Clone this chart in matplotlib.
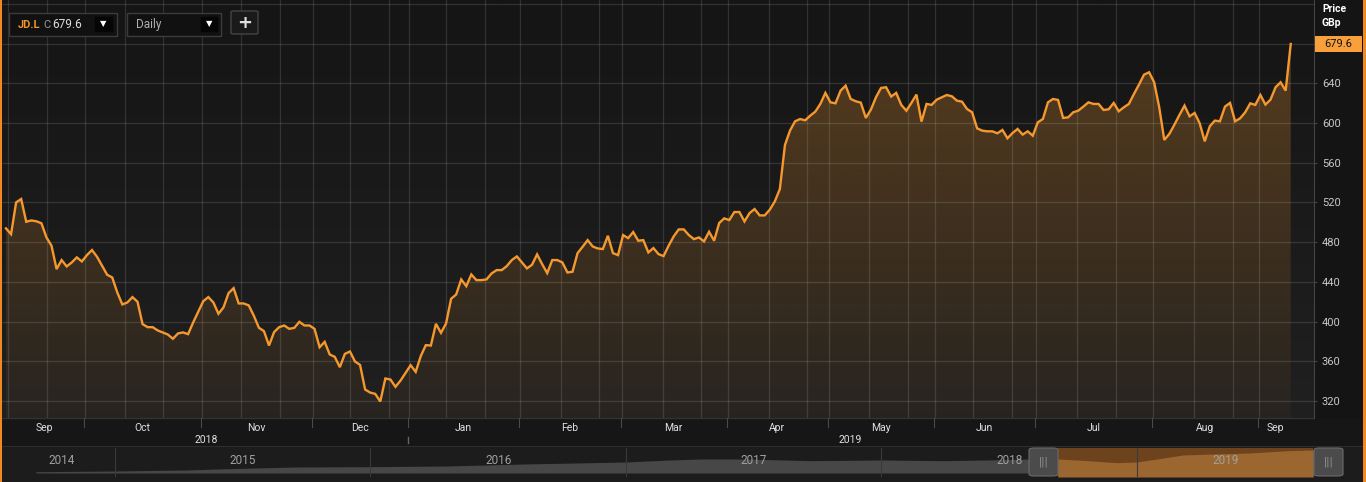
import numpy as np
import pandas as pd
import matplotlib
matplotlib.use("Agg")
import matplotlib.pyplot as plt
from matplotlib.patches import Polygon, Rectangle, FancyBboxPatch

plt.rcParams['font.family'] = ['Liberation Sans Narrow', 'Roboto', 'DejaVu Sans']

# JD.L daily closes (GBp), 7 Sep 2018 - 10 Sep 2019
prices = [
    493.8, 488.0, 520.0, 523.4, 500.5, 501.8, 501.0, 499.0, 484.7, 476.3,
    452.8, 461.9, 455.5, 459.5, 464.6, 460.5, 466.9, 472.0, 465.2, 456.2,
    447.1, 444.4, 429.3, 417.2, 419.2, 424.6, 419.9, 397.4, 394.3, 394.3,
    391.0, 389.0, 386.9, 382.6, 388.0, 389.0, 387.3, 399.0, 409.8, 420.5,
    424.6, 419.2, 407.8, 414.2, 428.6, 433.6, 418.2, 418.2, 416.2, 405.8,
    393.7, 390.3, 375.8, 389.3, 394.3, 396.0, 392.6, 393.6, 399.7, 396.0,
    396.0, 392.6, 374.1, 379.5, 366.8, 364.4, 354.0, 367.4, 369.8, 359.7,
    356.3, 331.5, 328.4, 327.1, 319.4, 342.6, 341.6, 334.2, 340.5, 348.3,
    356.0, 349.3, 365.1, 376.2, 375.8, 397.7, 388.6, 398.0, 422.9, 427.2,
    442.4, 435.6, 447.4, 441.7, 441.7, 442.4, 448.4, 451.8, 451.8, 455.8,
    461.9, 465.6, 459.5, 453.5, 457.2, 467.6, 457.8, 448.8, 461.9, 461.9,
    459.5, 449.4, 450.1, 468.9, 475.3, 482.0, 475.6, 473.6, 473.0, 486.4,
    468.9, 466.9, 487.1, 484.0, 490.1, 481.4, 482.0, 469.6, 474.0, 467.9,
    465.9, 476.3, 485.7, 492.8, 492.8, 487.1, 483.0, 484.7, 480.7, 490.4,
    481.4, 499.2, 503.9, 502.2, 510.3, 510.3, 500.8, 509.2, 513.3, 506.9,
    506.9, 512.6, 521.0, 533.5, 577.8, 592.3, 601.7, 604.0, 602.7, 607.4,
    611.4, 619.2, 630.3, 620.8, 619.8, 632.6, 637.6, 624.2, 621.9, 620.5,
    605.1, 613.5, 625.9, 635.3, 636.0, 626.6, 630.3, 618.2, 612.4, 620.2,
    628.6, 601.4, 619.2, 618.2, 623.5, 625.9, 628.2, 626.9, 622.5, 621.5,
    614.1, 610.8, 594.6, 592.3, 591.6, 591.6, 589.6, 593.0, 584.6, 589.9,
    594.0, 588.3, 591.6, 587.2, 600.7, 604.0, 620.8, 624.2, 623.2, 605.1,
    605.7, 610.8, 612.4, 616.5, 620.8, 619.2, 619.2, 613.1, 613.8, 620.2,
    611.8, 615.8, 619.2, 629.2, 638.7, 648.7, 651.1, 641.0, 615.8, 582.9,
    589.0, 598.3, 608.1, 617.5, 606.7, 610.1, 599.7, 581.5, 596.7, 602.4,
    601.7, 616.5, 620.2, 601.7, 604.7, 610.8, 619.8, 618.2, 628.2, 618.5,
    623.5, 636.0, 641.0, 632.6, 679.6,
]
uk_holidays = ["2018-12-25", "2018-12-26", "2019-01-01", "2019-04-19",
               "2019-04-22", "2019-05-06", "2019-05-27", "2019-08-26"]
dates = pd.bdate_range("2018-09-07", "2019-09-10", freq="C", holidays=uk_holidays)

y_ticks = [320, 360, 400, 440, 480, 520, 560, 600, 640]
# extra (in-month) vertical grid lines, in trading-day index units
grid_extra = [0.4, 8.1, 23.5, 31.0, 46.5, 54.2, 68.0, 75.7, 87.0, 94.7, 109.7,
              117.2, 129.9, 137.4, 150.9, 158.4, 170.6, 178.3, 191.2, 198.9,
              211.8, 219.5, 234.9, 242.6]

# navigator: long history (fractional year, price GBp)
nav_t = [2014.69, 2015.0, 2015.28, 2015.4, 2015.7, 2016.0, 2016.3, 2016.6,
         2017.0, 2017.17, 2017.29, 2017.47, 2017.72, 2018.0, 2018.24, 2018.41,
         2018.57, 2018.69, 2018.8, 2018.92, 2019.0, 2019.18, 2019.3, 2019.44,
         2019.59, 2019.69]
nav_v = [132, 150, 175, 200, 250, 258, 275, 325, 375, 425, 450, 450, 408, 425,
         408, 425, 450, 450, 412, 358, 375, 550, 575, 600, 658, 675]
nav_years = [2014, 2015, 2016, 2017, 2018, 2019]

W, H = 1366, 482
ORANGE = "#f5992f"


def box(x0, y0, x1, y1):
    return [x0 / W, 1 - y1 / H, (x1 - x0) / W, (y1 - y0) / H]


def px_to_idx(px):
    return (px - 6) / 5.058


n = len(prices)
idx = np.arange(n)
xlim = (px_to_idx(2), px_to_idx(1314))
ylim = (302.8, 723.9)

fig = plt.figure(figsize=(W / 100, H / 100), dpi=100, facecolor="#131313")

# ---- main price panel ----
ax = fig.add_axes(box(2, 0, 1314, 418))
ax.set_xlim(*xlim)
ax.set_ylim(*ylim)
bg = np.linspace(0, 1, 200).reshape(-1, 1)
ax.imshow(bg, extent=[xlim[0], xlim[1], ylim[0], ylim[1]], origin="upper",
          aspect="auto", cmap=matplotlib.colors.LinearSegmentedColormap.from_list(
              "bg", ["#151515", "#202020"]), zorder=0)

verts = [(0, ylim[0])] + list(zip(idx, prices)) + [(n - 1, ylim[0])]
poly = Polygon(verts, closed=True, facecolor="none", edgecolor="none")
ax.add_patch(poly)
vv = np.linspace(ylim[1], ylim[0], 300)
grad = np.zeros((300, 1, 4))
grad[:, 0, 0] = 0.96
grad[:, 0, 1] = 0.60
grad[:, 0, 2] = 0.20
grad[:, 0, 3] = 0.04 + 0.28 * (vv - 303) / 420
im = ax.imshow(grad, extent=[xlim[0], xlim[1], ylim[0], ylim[1]], origin="upper",
               aspect="auto", zorder=1)
im.set_clip_path(poly)

month_first = [i for i in range(1, n) if dates[i].month != dates[i - 1].month]
for t in y_ticks + [680, 720]:
    ax.axhline(t, color="white", alpha=0.12, lw=0.9, zorder=2)
for g in grid_extra + [m - 0.3 for m in month_first]:
    ax.axvline(g, color="white", alpha=0.12, lw=0.9, zorder=2)

ax.plot(idx, prices, color=ORANGE, lw=1.7, zorder=5, solid_joinstyle="miter")

for s in ["top", "left", "bottom"]:
    ax.spines[s].set_visible(False)
ax.spines["right"].set_color("#444444")
ax.set_xticks([])
ax.yaxis.tick_right()
ax.set_yticks(y_ticks)
ax.set_yticklabels([str(t) for t in y_ticks])
ax.tick_params(axis="y", direction="out", length=2.2, width=0.8, color="#444444",
               labelcolor="#c8c8c8", labelsize=8, pad=3.4)

# right axis column background
fig.patches.append(Rectangle((1314 / W, 1 - 418 / H), 49 / W, 418 / H,
                             transform=fig.transFigure, facecolor="#141414",
                             edgecolor="none", zorder=-1))
fig.text(1322 / W, 1 - 9 / H, "Price", color="white", fontsize=7.5,
         fontweight="bold", va="center", ha="left")
fig.text(1322 / W, 1 - 23 / H, "GBp", color="white", fontsize=7.5,
         fontweight="bold", va="center", ha="left")
fig.patches.append(Rectangle((1315 / W, 1 - 52 / H), 47 / W, 16 / H,
                             transform=fig.transFigure, facecolor="#f7a03c",
                             edgecolor="none", zorder=3))
fig.text(1338 / W, 1 - 44 / H, f"{prices[-1]:.1f}", color="#111111", fontsize=8,
         va="center", ha="center", zorder=4)

# ---- date band ----
fig.patches.append(Rectangle((0, 1 - 446 / H), 1, 28 / H, transform=fig.transFigure,
                             facecolor="#161616", edgecolor="none", zorder=-1))
axd = fig.add_axes(box(2, 418, 1314, 446))
axd.set_xlim(*xlim)
axd.set_ylim(0, 28)
axd.axis("off")
axd.axhline(28, color="#333333", lw=1)
for m in month_first:
    axd.plot([m - 0.5, m - 0.5], [28, 19], color="#4a4a4a", lw=0.8)
starts = [0] + month_first
ends = month_first + [n]
for a, b in zip(starts, ends):
    axd.text((a + b - 1) / 2, 18, dates[a].strftime("%b"), color="#e0e0e0",
             fontsize=7.5, ha="center", va="center")
years = dates.year
for yr in sorted(set(years)):
    sel = np.where(years == yr)[0]
    axd.text((sel[0] + sel[-1]) / 2, 6, str(yr), color="#e0e0e0", fontsize=7.5,
             ha="center", va="center")
ny = np.where(years == 2019)[0][0] - 0.5
axd.plot([ny, ny], [3, 9], color="#666666", lw=1)

# ---- navigator ----
fig.patches.append(Rectangle((0, 0), 1, 36 / H, transform=fig.transFigure,
                             facecolor="#1c1c1c", edgecolor="none", zorder=-1))
fig.patches.append(Rectangle((0, 1 - 447 / H), 1, 1 / H, transform=fig.transFigure,
                             facecolor="#2e2e2e", edgecolor="none", zorder=-1))
nx0 = 2015 - (115 - 2) / 255.5
nx1 = 2015 + (1363 - 115) / 255.5
axn = fig.add_axes(box(2, 448, 1363, 477))
axn.set_facecolor("none")
axn.set_xlim(nx0, nx1)
axn.set_ylim(0, 725)
for s in axn.spines.values():
    s.set_visible(False)
axn.set_xticks([])
axn.set_yticks([])
sel0, sel1 = nav_t[-9], nav_t[-1]
axn.fill_between(nav_t, nav_v, 100, color="#474747", lw=0, zorder=1)
axn.axvspan(sel0, sel1, ymin=0, ymax=0.99, color="#6c431d", zorder=2, lw=0)
nt = np.array(nav_t)
nv = np.array(nav_v)
mask = nt >= sel0
axn.fill_between(nt[mask], nv[mask], 0, color="#9c6631", lw=0, zorder=3)
for yr in nav_years[1:]:
    axn.axvline(yr, color="#3a3a3a", lw=0.8, zorder=4)
left_year = 2015 - (115 - 9) / 255.5
for yr in nav_years:
    a = max(yr, left_year)
    b = min(yr + 1, nav_t[-1])
    axn.text((a + b) / 2, 400, str(yr), color="#a0a0a0", fontsize=8.5,
             ha="center", va="center", zorder=6)
for hx in (1029, 1314):
    fig.patches.append(FancyBboxPatch((hx / W, 1 - 476 / H), 29 / W, 28 / H,
                                      boxstyle="round,pad=0,rounding_size=0.004",
                                      transform=fig.transFigure,
                                      facecolor="#4b4b4b", edgecolor="#6a6a6a",
                                      lw=0.8, zorder=5))
    fig.text((hx + 14.5) / W, 1 - 462 / H, "|||", color="#9a9a9a", fontsize=7,
             ha="center", va="center", zorder=6, family="DejaVu Sans")

# ---- toolbar ----
def ctrl(x0, y0, x1, y1, fc="#111111", ec="#3c3c3c"):
    fig.patches.append(Rectangle((x0 / W, 1 - y1 / H), (x1 - x0) / W, (y1 - y0) / H,
                                 transform=fig.transFigure, facecolor=fc,
                                 edgecolor=ec, lw=1, zorder=6))


ctrl(9, 13, 117, 36)
ctrl(95, 17, 112, 31, fc="#050505", ec="#050505")
fig.text(18 / W, 1 - 24.5 / H, "JD.L", color="#f0962a", fontsize=8,
         fontweight="bold", va="center", zorder=7)
fig.text(43 / W, 1 - 24.5 / H, "C", color="#9a9a9a", fontsize=8, va="center", zorder=7)
fig.text(52 / W, 1 - 24.5 / H, f"{prices[-1]:.1f}", color="#dddddd", fontsize=8.5,
         va="center", zorder=7)
fig.text(103.5 / W, 1 - 24 / H, "▼", color="white", fontsize=6, ha="center",
         va="center", zorder=7, family="DejaVu Sans")
ctrl(127, 13, 221, 36)
ctrl(201, 17, 217, 31, fc="#050505", ec="#050505")
fig.text(136 / W, 1 - 24.5 / H, "Daily", color="#b0b0b0", fontsize=8.5, va="center", zorder=7)
fig.text(209 / W, 1 - 24 / H, "▼", color="white", fontsize=6, ha="center",
         va="center", zorder=7, family="DejaVu Sans")
fig.patches.append(FancyBboxPatch((231 / W, 1 - 34 / H), 27 / W, 23 / H,
                                  boxstyle="round,pad=0,rounding_size=0.002",
                                  transform=fig.transFigure, facecolor="#1a1a1a",
                                  edgecolor="#444444", lw=1, zorder=6))
fig.text(244.5 / W, 1 - 22.5 / H, "+", color="#e0e0e0", fontsize=13, fontweight="bold",
         ha="center", va="center", zorder=7, family="DejaVu Sans")

# orange window borders
fig.patches.append(Rectangle((0, 0), 2 / W, 1, transform=fig.transFigure,
                             facecolor="#f08a20", edgecolor="none", zorder=8))
fig.patches.append(Rectangle((1363 / W, 0), 3 / W, 1, transform=fig.transFigure,
                             facecolor="#f08a20", edgecolor="none", zorder=8))

fig.savefig("out.png", dpi=100, facecolor=fig.get_facecolor())
